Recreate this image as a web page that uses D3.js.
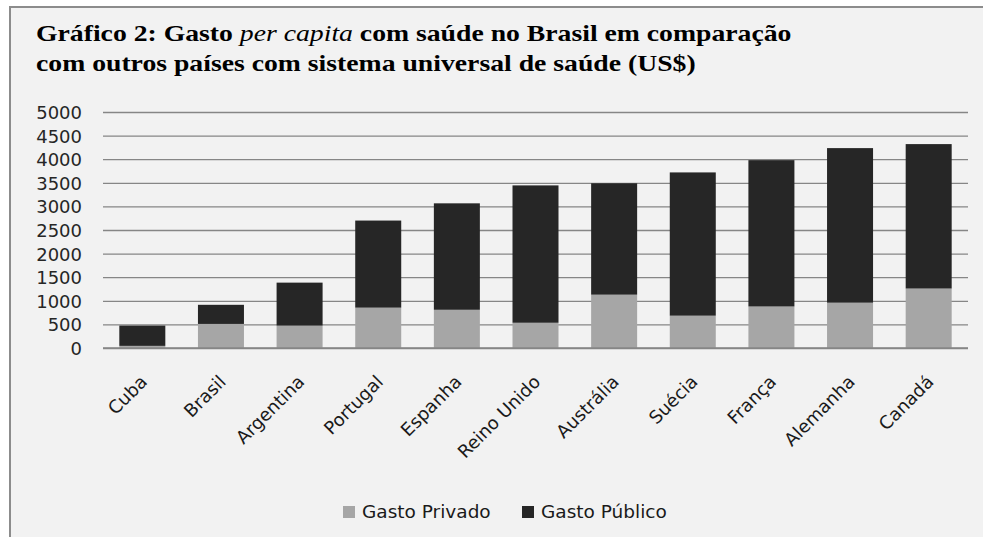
<!DOCTYPE html>
<html>
<head>
<meta charset="utf-8">
<script src="https://cdn.jsdelivr.net/npm/d3@7"></script>
<style>
  html, body { margin: 0; padding: 0; background: #ffffff; }
  svg { display: block; }
</style>
</head>
<body>
<svg id="chart" width="983" height="537"></svg>
<script>
// Per-capita health spending (US$), split into private and public shares
const paises = ["Cuba", "Brasil", "Argentina", "Portugal", "Espanha", "Reino Unido",
                "Austrália", "Suécia", "França", "Alemanha", "Canadá"];
const gastoPrivado = [45, 510, 475, 855, 810, 535, 1130, 685, 880, 960, 1260];
const gastoPublico = [430, 405, 910, 1845, 2255, 2910, 2360, 3035, 3100, 3275, 3060];
const yTicks = [0, 500, 1000, 1500, 2000, 2500, 3000, 3500, 4000, 4500, 5000];
const series = ["Gasto Privado", "Gasto Público"];
const colors = ["#a6a6a6", "#262626"];

const svg = d3.select("#chart");
const W = 983, H = 537;

// Frame
svg.append("rect").attr("x", 0).attr("y", 0).attr("width", W).attr("height", H).attr("fill", "#ffffff");
svg.append("rect").attr("x", 10).attr("y", 7).attr("width", W).attr("height", H)
  .attr("fill", "#f2f2f2").attr("stroke", "#8c8c8c").attr("stroke-width", 2);

// Title (slightly widened serif)
const title = svg.append("text")
  .attr("transform", "translate(36,0) scale(1.155,1)")
  .attr("font-family", "'Liberation Serif', 'Times New Roman', serif")
  .attr("font-weight", "bold").attr("font-size", 24).attr("fill", "#000");
const l1 = title.append("tspan").attr("x", 0).attr("y", 41);
l1.append("tspan").text("Gráfico 2: Gasto ");
l1.append("tspan").attr("font-style", "italic").attr("font-weight", "normal").text("per capita");
l1.append("tspan").text(" com saúde no Brasil em comparação");
title.append("tspan").attr("x", 0).attr("y", 71)
  .text("com outros países com sistema universal de saúde (US$)");

// Scales
const margin = { left: 103, right: 968, top: 112, bottom: 348 };
const x = d3.scaleBand().domain(paises).range([margin.left, margin.right])
  .paddingInner(0.415).paddingOuter(0.2075);
const y = d3.scaleLinear().domain([0, 5000]).range([margin.bottom, margin.top]);

// Gridlines + y labels
const yAxis = d3.axisLeft(y).tickValues(yTicks).tickSize(-(margin.right - margin.left))
  .tickPadding(21).tickFormat(d3.format("d"));
const gy = svg.append("g").attr("transform", `translate(${margin.left},0)`).call(yAxis);
gy.select(".domain").remove();
gy.selectAll(".tick line").attr("stroke", "#868686").attr("stroke-width", 1.3);
gy.selectAll(".tick text").attr("font-family", "'DejaVu Sans', sans-serif")
  .attr("font-size", 18).attr("fill", "#262626").attr("dy", "0.36em");

// Stacked bars
const rows = paises.map((p, i) => ({ pais: p, "Gasto Privado": gastoPrivado[i], "Gasto Público": gastoPublico[i] }));
const stack = d3.stack().keys(series)(rows);
svg.append("g").selectAll("g").data(stack).join("g")
  .attr("fill", (d, i) => colors[i])
  .selectAll("rect").data(d => d).join("rect")
  .attr("x", d => x(d.data.pais))
  .attr("width", x.bandwidth())
  .attr("y", d => y(d[1]))
  .attr("height", d => y(d[0]) - y(d[1]));

// Zero line on top of bars
svg.append("line").attr("x1", margin.left).attr("x2", margin.right)
  .attr("y1", y(0)).attr("y2", y(0)).attr("stroke", "#868686").attr("stroke-width", 1.3);

// Category labels, rotated
svg.append("g").selectAll("text").data(paises).join("text")
  .attr("transform", d => `translate(${x(d) + x.bandwidth() / 2 + 6},${margin.bottom + 35}) rotate(-45)`)
  .attr("text-anchor", "end")
  .attr("font-family", "'DejaVu Sans', sans-serif").attr("font-size", 18).attr("fill", "#1a1a1a")
  .text(d => d);

// Legend
const legend = svg.append("g").attr("font-family", "'DejaVu Sans', sans-serif").attr("font-size", 18.5);
const legX = [343, 522];
series.forEach((s, i) => {
  legend.append("rect").attr("x", legX[i]).attr("y", 506).attr("width", 12).attr("height", 12).attr("fill", colors[i]);
  legend.append("text").attr("x", legX[i] + 19).attr("y", 518).attr("fill", "#1a1a1a").text(s);
});
</script>
</body>
</html>
